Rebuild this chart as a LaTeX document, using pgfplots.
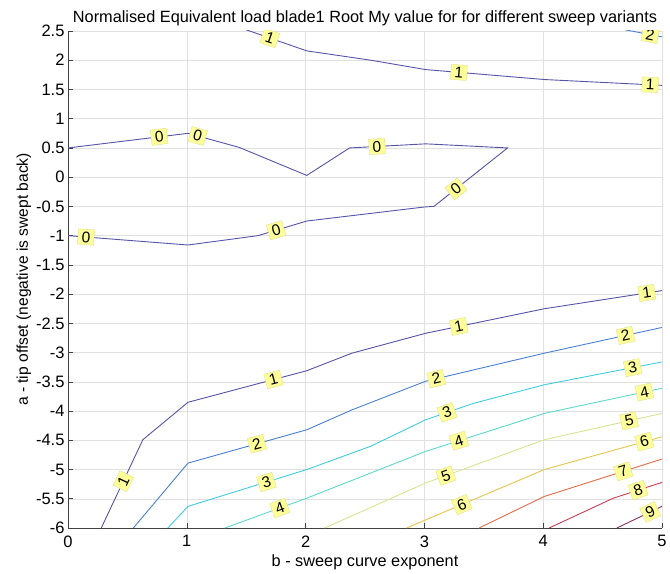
\documentclass[border=0pt]{standalone}
\usepackage{pgfplots}
\pgfplotsset{compat=1.18}
\usepackage{fontspec}
\setmainfont{Liberation Sans}
\definecolor{c0}{HTML}{5454A8}
\definecolor{c2}{HTML}{4A80D4}
\definecolor{c3}{HTML}{40CCE0}
\definecolor{c4}{HTML}{5CD8C8}
\definecolor{c5}{HTML}{D4E690}
\definecolor{c6}{HTML}{E6C44C}
\definecolor{c7}{HTML}{E26C48}
\definecolor{c8}{HTML}{CC3C54}
\definecolor{c9}{HTML}{88305C}
\definecolor{lblfill}{HTML}{FFFF99}
\definecolor{lbldraw}{HTML}{E0E090}
\tikzset{lbl/.style={sloped, fill=lblfill, draw=lbldraw, line width=0.4pt, inner sep=2.2pt,
    font=\fontsize{15.5}{17}\selectfont, text=black, minimum width=16pt}}
\begin{document}
\begin{tikzpicture}
\begin{axis}[
  scale only axis, width=594pt, height=497pt,
  xmin=0, xmax=5, ymin=-6, ymax=2.5,
  xtick={0,1,2,3,4,5},
  ytick={-6,-5.5,-5,-4.5,-4,-3.5,-3,-2.5,-2,-1.5,-1,-0.5,0,0.5,1,1.5,2,2.5},
  yticklabels={-6,-5.5,-5,-4.5,-4,-3.5,-3,-2.5,-2,-1.5,-1,-0.5,0,0.5,1,1.5,2,2.5},
  grid=major, grid style={black!12, line width=0.5pt},
  axis x line*=bottom, axis y line*=left,
  axis line style={-, black!75, line width=0.6pt},
  tick align=inside, tick style={black!75, line width=0.6pt}, major tick length=5pt,
  /pgf/number format/assume math mode=true,
  ticklabel style={font=\fontsize{16.5}{18}\selectfont},
  xticklabel style={yshift=-4pt},
  title={Normalised Equivalent load blade1 Root My value for for different sweep variants},
  title style={font=\fontsize{16.3}{18}\selectfont, yshift=-4pt},
  xlabel={b - sweep curve exponent},
  ylabel={a - tip offset (negative is swept back)},
  label style={font=\fontsize{16.3}{18}\selectfont},
  xlabel style={yshift=-1pt},
  ylabel style={yshift=-2pt, font=\fontsize{15.6}{18}\selectfont},
  clip=true,
  every axis plot/.append style={line width=0.9pt},
]
% level 0
\addplot[c0] coordinates {(0,0.5)(1.01,0.75)(1.44,0.51)(2.01,0.03)(2.37,0.5)(3.01,0.57)(3.70,0.5)(3.08,-0.5)(3.0,-0.51)(2.01,-0.75)(1.60,-1.0)(1.01,-1.16)(0,-1.0)};
% level 1 (top)
\addplot[c0] coordinates {(1.5,2.52)(2.01,2.16)(2.55,2.0)(3.01,1.84)(4.01,1.67)(5,1.57)};
% level 2 (top right)
\addplot[c2] coordinates {(4.69,2.52)(5,2.4)};
% level 1 (lower)
\addplot[c0] coordinates {(0.28,-6)(0.63,-4.49)(1.01,-3.85)(2.01,-3.31)(2.39,-3.01)(3.01,-2.67)(4.01,-2.25)(5,-1.94)};
% level 2
\addplot[c2] coordinates {(0.55,-6)(1.01,-4.89)(2.01,-4.32)(2.39,-3.98)(3.01,-3.49)(4.01,-3.01)(5,-2.57)};
% level 3
\addplot[c3] coordinates {(0.84,-6)(1.01,-5.63)(2.01,-5.0)(2.55,-4.6)(3.01,-4.15)(3.41,-3.87)(4.01,-3.55)(5,-3.16)};
% level 4
\addplot[c4] coordinates {(1.32,-6)(2.01,-5.49)(3.01,-4.69)(4.01,-4.04)(5,-3.61)};
% level 5
\addplot[c5] coordinates {(2.16,-6)(3.01,-5.23)(4.01,-4.49)(5,-4.04)};
% level 6
\addplot[c6] coordinates {(2.85,-6)(4.01,-5.0)(5,-4.44)};
% level 7
\addplot[c7] coordinates {(3.46,-6)(4.01,-5.46)(5,-4.82)};
% level 8
\addplot[c8] coordinates {(4.05,-6)(4.59,-5.49)(5,-5.22)};
% level 9
\addplot[c9] coordinates {(4.62,-6)(5,-5.63)};
% ---- labels ----
\addplot[draw=none] coordinates {(0,0.5)(1.01,0.75)} node[lbl,pos=0.76]{0};
\addplot[draw=none] coordinates {(1.01,0.75)(1.44,0.51)} node[lbl,pos=0.19]{0};
\addplot[draw=none] coordinates {(2.37,0.5)(3.01,0.57)} node[lbl,pos=0.36]{0};
\addplot[draw=none] coordinates {(3.70,0.5)(3.08,-0.5)} node[lbl,pos=0.7]{0};
\addplot[draw=none] coordinates {(2.01,-0.75)(1.60,-1.0)} node[lbl,pos=0.63]{0};
\addplot[draw=none] coordinates {(1.01,-1.16)(0,-1.0)} node[lbl,pos=0.85]{0};
\addplot[draw=none] coordinates {(1.5,2.52)(2.01,2.16)} node[lbl,pos=0.39]{1};
\addplot[draw=none] coordinates {(3.01,1.84)(4.01,1.67)} node[lbl,pos=0.28]{1};
\addplot[draw=none] coordinates {(4.01,1.67)(5,1.57)} node[lbl,pos=0.9]{1};
\addplot[draw=none] coordinates {(4.69,2.52)(5,2.4)} node[lbl,pos=0.68]{2};
\addplot[draw=none] coordinates {(0.28,-6)(0.63,-4.49)} node[lbl,pos=0.53]{1};
\addplot[draw=none] coordinates {(1.01,-3.85)(2.01,-3.31)} node[lbl,pos=0.72]{1};
\addplot[draw=none] coordinates {(3.01,-2.67)(4.01,-2.25)} node[lbl,pos=0.28]{1};
\addplot[draw=none] coordinates {(4.01,-2.25)(5,-1.94)} node[lbl,pos=0.87]{1};
\addplot[draw=none] coordinates {(1.01,-4.89)(2.01,-4.32)} node[lbl,pos=0.58]{2};
\addplot[draw=none] coordinates {(3.01,-3.49)(4.01,-3.01)} node[lbl,pos=0.09]{2};
\addplot[draw=none] coordinates {(4.01,-3.01)(5,-2.57)} node[lbl,pos=0.69]{2};
\addplot[draw=none] coordinates {(1.01,-5.63)(2.01,-5.0)} node[lbl,pos=0.66]{3};
\addplot[draw=none] coordinates {(3.01,-4.15)(3.41,-3.87)} node[lbl,pos=0.45]{3};
\addplot[draw=none] coordinates {(4.01,-3.55)(5,-3.16)} node[lbl,pos=0.75]{3};
\addplot[draw=none] coordinates {(1.32,-6)(2.01,-5.49)} node[lbl,pos=0.67]{4};
\addplot[draw=none] coordinates {(3.01,-4.69)(4.01,-4.04)} node[lbl,pos=0.28]{4};
\addplot[draw=none] coordinates {(4.01,-4.04)(5,-3.61)} node[lbl,pos=0.85]{4};
\addplot[draw=none] coordinates {(3.01,-5.23)(4.01,-4.49)} node[lbl,pos=0.17]{5};
\addplot[draw=none] coordinates {(4.01,-4.49)(5,-4.04)} node[lbl,pos=0.72]{5};
\addplot[draw=none] coordinates {(2.85,-6)(4.01,-5.0)} node[lbl,pos=0.40]{6};
\addplot[draw=none] coordinates {(4.01,-5.0)(5,-4.44)} node[lbl,pos=0.85]{6};
\addplot[draw=none] coordinates {(4.01,-5.46)(5,-4.82)} node[lbl,pos=0.67]{7};
\addplot[draw=none] coordinates {(4.59,-5.49)(5,-5.22)} node[lbl,pos=0.51]{8};
\addplot[draw=none] coordinates {(4.62,-6)(5,-5.63)} node[lbl,pos=0.74]{9};
\end{axis}
\path ([shift={(-68pt,-42pt)}]current axis.south west) rectangle ([shift={(8pt,31pt)}]current axis.north east);
\end{tikzpicture}
\end{document}
